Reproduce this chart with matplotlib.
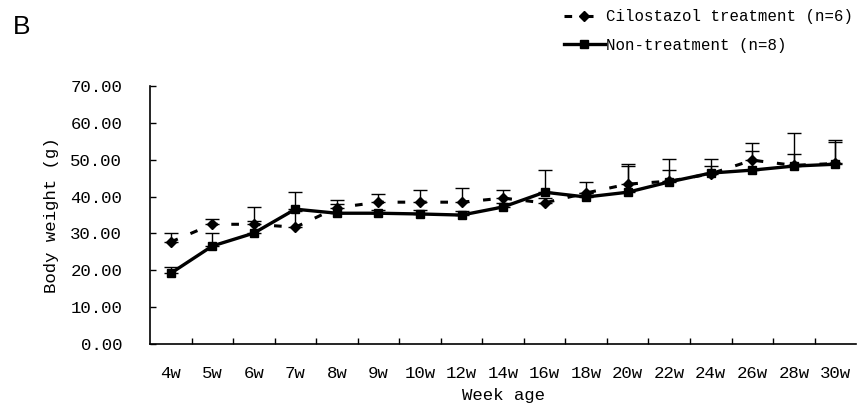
import matplotlib
matplotlib.use("Agg")
import matplotlib.pyplot as plt
from matplotlib.lines import Line2D
import numpy as np

weeks = ['4w', '5w', '6w', '7w', '8w', '9w', '10w', '12w', '14w', '16w',
         '18w', '20w', '22w', '24w', '26w', '28w', '30w']
cilo = [27.7, 32.5, 32.5, 31.7, 37.0, 38.5, 38.5, 38.5, 39.6, 38.3,
        41.0, 43.4, 44.2, 46.2, 49.9, 48.5, 49.0]
cilo_err = [2.4, 1.4, 1.0, 4.5, 1.0, 2.2, 3.3, 3.8, 2.2, 1.3,
            3.0, 5.4, 6.0, 2.0, 4.6, 3.0, 5.8]
non = [19.2, 26.6, 30.1, 36.6, 35.5, 35.5, 35.3, 35.0, 37.2, 41.2,
       39.9, 41.2, 44.0, 46.4, 47.2, 48.3, 48.8]
non_err = [1.7, 3.5, 7.1, 4.6, 3.6, 1.0, 1.0, 1.0, 1.0, 6.0,
           1.0, 7.1, 3.2, 3.8, 5.2, 8.9, 6.5]
yticks = [0, 10, 20, 30, 40, 50, 60, 70]

mono = 'Liberation Mono'
x = np.arange(len(weeks))

fig = plt.figure(figsize=(8.57, 4.16), dpi=100, facecolor='w')
ax = fig.add_axes([0.175, 0.173, 0.824, 0.620])

# error bars (upper only)
ax.errorbar(x, cilo, yerr=[np.zeros(len(x)), cilo_err], fmt='none',
            ecolor='black', elinewidth=1, capsize=5, capthick=1, zorder=2)
ax.errorbar(x, non, yerr=[np.zeros(len(x)), non_err], fmt='none',
            ecolor='black', elinewidth=1, capsize=5, capthick=1, zorder=2)

ax.plot(x, cilo, color='black', linewidth=2.2, linestyle=(0, (2.5, 4.5)),
        marker='D', markersize=5.5, zorder=3)
ax.plot(x, non, color='black', linewidth=2.4, linestyle='-',
        marker='s', markersize=5.5, zorder=4)

ax.set_xlim(-0.5, len(weeks) - 0.5)
ax.set_ylim(0, 70)
ax.set_yticks(yticks)
ax.set_yticklabels(['%.2f' % v for v in yticks], fontfamily=mono, fontsize=12.5)
ax.set_xticks(x)
ax.set_xticklabels(weeks, fontfamily=mono, fontsize=12.5)
ax.set_xticks(np.arange(len(weeks) - 1) + 0.5, minor=True)
ax.tick_params(axis='x', which='major', length=0, pad=16)
ax.tick_params(axis='x', which='minor', direction='in', length=4, width=1)
ax.tick_params(axis='y', direction='in', length=4, width=1, pad=20)

for s in ['top', 'right']:
    ax.spines[s].set_visible(False)
for s in ['left', 'bottom']:
    ax.spines[s].set_linewidth(1.2)

ax.set_xlabel('Week age', fontfamily=mono, fontsize=12.5, labelpad=5)
ax.set_ylabel('Body weight (g)', fontfamily=mono, fontsize=12.5, labelpad=8)

handles = [
    Line2D([], [], color='black', linewidth=2.2, linestyle=(0, (2.5, 4.5)),
           marker='D', markersize=5.5),
    Line2D([], [], color='black', linewidth=2.4, marker='s', markersize=5.5),
]
fig.legend(handles, ['Cilostazol treatment (n=6)', 'Non-treatment (n=8)'],
           loc='upper left', bbox_to_anchor=(0.647, 1.0), frameon=False,
           prop={'family': mono, 'size': 11.3}, handlelength=2.6,
           handletextpad=0.1, labelspacing=0.85, borderaxespad=0.2)

fig.text(0.015, 0.965, 'B', fontsize=19, fontfamily='Liberation Sans',
         va='top', ha='left')

fig.savefig('out.png', dpi=100)
